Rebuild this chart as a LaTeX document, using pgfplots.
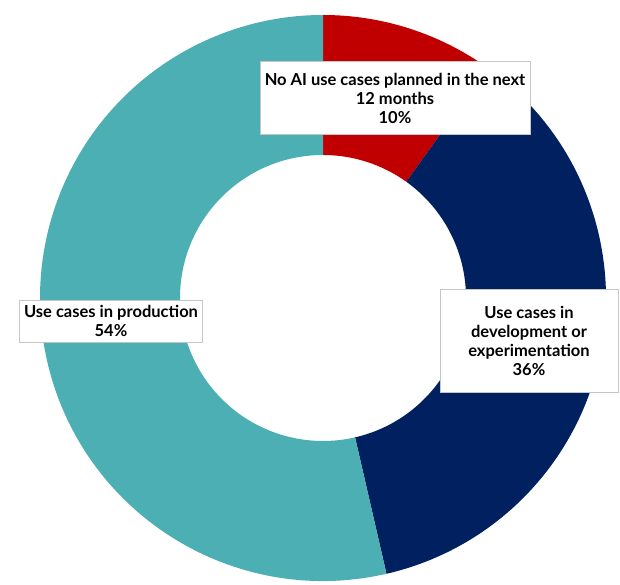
\documentclass[border=0pt]{standalone}
\usepackage{pgfplots}
\pgfplotsset{compat=1.18}
\usepackage{pgfplotstable}
\usetikzlibrary{calc}
\usepackage{fontspec}
\setmainfont{Lato}
\definecolor{cred}{HTML}{C00000}
\definecolor{cnavy}{HTML}{002060}
\definecolor{cteal}{HTML}{4BAFB4}
\pgfplotstableread[col sep=comma]{
name,value,color
NoAI,9.9,cred
Dev,36.5,cnavy
Prod,53.6,cteal
}\datatable
\begin{document}
\begin{tikzpicture}
\begin{axis}[
  scale only axis, width=620pt, height=585pt,
  xmin=0, xmax=620, ymin=0, ymax=585,
  hide axis, clip=false,
]
\path (axis cs:0,0) rectangle (axis cs:620,585);
\def\cx{323}\def\cy{287}
\pgfplotstablegetrowsof{\datatable}
\pgfmathtruncatemacro{\nrows}{\pgfplotsretval-1}
\def\curang{90}
\pgfplotsforeachungrouped \i in {0,...,\nrows}{%
  \pgfplotstablegetelem{\i}{value}\of\datatable
  \let\v\pgfplotsretval
  \pgfplotstablegetelem{\i}{color}\of\datatable
  \let\c\pgfplotsretval
  \pgfmathsetmacro{\aone}{\curang}
  \pgfmathsetmacro{\atwo}{\curang-3.6*\v}
  \edef\temp{\noexpand\fill[\c, overlay] ($(axis cs:\cx,\cy)+(\aone:283pt)$) arc[start angle=\aone, end angle=\atwo, radius=283pt] -- ($(axis cs:\cx,\cy)+(\atwo:143pt)$) arc[start angle=\atwo, end angle=\aone, radius=143pt] -- cycle;}
  \temp
  \global\let\curang\atwo
}
\tikzset{lbl/.style={draw=gray!45, fill=white, align=center, font=\fontsize{16.5}{19}\selectfont\bfseries, inner sep=0pt, line width=0.6pt}}
\node[lbl, minimum width=270pt, minimum height=73pt] at (axis cs:395,487) {No AI use cases planned in the next\\12 months\\10\%};
\node[lbl, minimum width=178pt, minimum height=103pt] at (axis cs:529,244) {Use cases in\\development or\\experimentation\\36\%};
\node[lbl, minimum width=183pt, minimum height=42pt] at (axis cs:111,264) {Use cases in production\\54\%};
\end{axis}
\end{tikzpicture}
\end{document}
